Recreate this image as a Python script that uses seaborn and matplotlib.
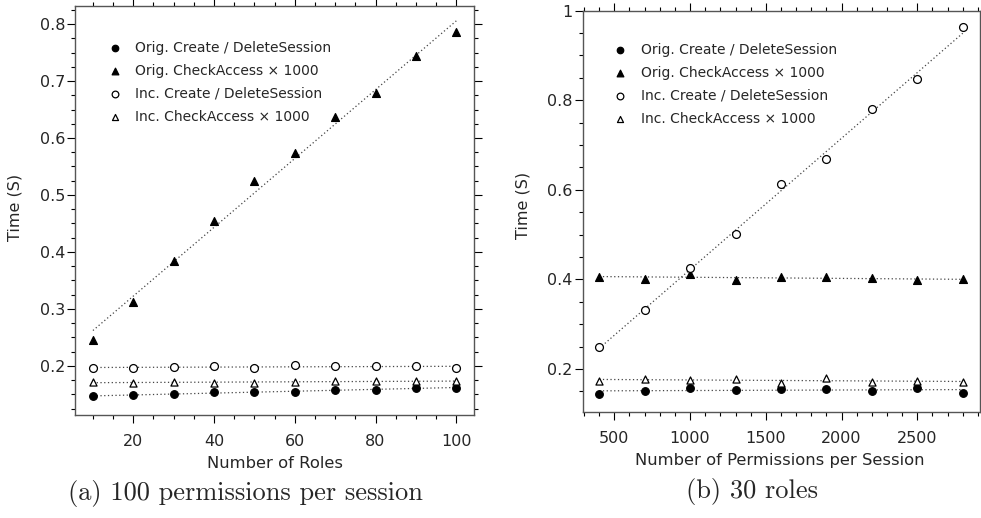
import matplotlib
matplotlib.use("Agg")
import numpy as np
import pandas as pd
import matplotlib.pyplot as plt
from matplotlib.ticker import MultipleLocator, FuncFormatter
import seaborn as sns

# --- values ---
roles = [10, 20, 30, 40, 50, 60, 70, 80, 90, 100]
roles_orig_create = [0.147, 0.149, 0.151, 0.154, 0.154, 0.155, 0.157, 0.158, 0.162, 0.162]
roles_orig_check = [0.245, 0.312, 0.384, 0.455, 0.524, 0.574, 0.636, 0.679, 0.744, 0.786]
roles_inc_create = [0.196, 0.196, 0.199, 0.200, 0.196, 0.201, 0.200, 0.200, 0.200, 0.196]
roles_inc_check = [0.172, 0.170, 0.172, 0.171, 0.170, 0.172, 0.174, 0.174, 0.173, 0.173]

perms = [400, 700, 1000, 1300, 1600, 1900, 2200, 2500, 2800]
perms_orig_create = [0.144, 0.152, 0.157, 0.154, 0.155, 0.155, 0.152, 0.158, 0.147]
perms_orig_check = [0.405, 0.402, 0.413, 0.399, 0.405, 0.405, 0.403, 0.398, 0.400]
perms_inc_create = [0.249, 0.332, 0.426, 0.502, 0.612, 0.670, 0.780, 0.847, 0.963]
perms_inc_check = [0.174, 0.178, 0.176, 0.178, 0.168, 0.180, 0.172, 0.174, 0.170]

series_labels = ["Orig. Create / DeleteSession", "Orig. CheckAccess \u00d7 1000",
                 "Inc. Create / DeleteSession", "Inc. CheckAccess \u00d7 1000"]

# --- style ---
sns.set_style("ticks")
plt.rcParams['font.family'] = ['DejaVu Sans']

markers = ['o', '^', 'o', '^']
faces = ['black', 'black', 'white', 'white']
sizes = [30, 32, 32, 26]


def draw_panel(ax, x, ys, legend_anchor):
    for y, lab, m, fc, s in zip(ys, series_labels, markers, faces, sizes):
        df = pd.DataFrame({'x': x, 'y': y})
        # dotted least-squares line behind the points
        sns.regplot(data=df, x='x', y='y', ax=ax, ci=None, scatter=False,
                    line_kws=dict(color='#444444', lw=0.9, ls=(0, (1, 2)), zorder=2))
        sns.scatterplot(data=df, x='x', y='y', ax=ax, marker=m, s=s, color='black',
                        facecolor=fc, edgecolor='black', linewidth=0.9,
                        label=lab, zorder=3)
    ax.set_xlabel('')
    ax.set_ylabel('')
    for sp in ax.spines.values():
        sp.set_visible(True)
        sp.set_color('#555555')
        sp.set_linewidth(1.0)
    ax.tick_params(which='both', direction='out', top=True, right=True,
                   labeltop=False, labelright=False, color='black', width=0.8)
    ax.tick_params(which='major', length=6, labelsize=11.5)
    ax.tick_params(which='minor', length=3)
    ax.tick_params(axis='x', pad=8)
    ax.tick_params(axis='y', pad=1)
    ax.yaxis.set_major_formatter(FuncFormatter(lambda v, p: f"{v:g}"))
    ax.legend(loc='upper left', frameon=False, fontsize=10, handlelength=1.0,
              handletextpad=1.0, labelspacing=0.65, borderpad=0, borderaxespad=0,
              markerscale=0.85, bbox_to_anchor=legend_anchor)


fig = plt.figure(figsize=(9.81, 5.18), dpi=100)
W, H = 981.0, 518.0

# left panel
ax1 = fig.add_axes([75 / W, (H - 415) / H, 399 / W, 409 / H])
draw_panel(ax1, roles, [roles_orig_create, roles_orig_check, roles_inc_create, roles_inc_check],
           (0.082, 0.915))
ax1.set_xlim(5.56, 104.38)
ax1.set_ylim(0.114, 0.8316)
ax1.xaxis.set_major_locator(MultipleLocator(20))
ax1.xaxis.set_minor_locator(MultipleLocator(5))
ax1.yaxis.set_major_locator(MultipleLocator(0.1))
ax1.yaxis.set_minor_locator(MultipleLocator(0.025))

# right panel
ax2 = fig.add_axes([582.5 / W, (H - 411.7) / H, 397.5 / W, 401 / H])
draw_panel(ax2, perms, [perms_orig_create, perms_orig_check, perms_inc_create, perms_inc_check],
           (0.078, 0.92))
ax2.set_xlim(290, 2914)
ax2.set_ylim(0.1047, 1.0)
ax2.xaxis.set_major_locator(MultipleLocator(500))
ax2.xaxis.set_minor_locator(MultipleLocator(100))
ax2.yaxis.set_major_locator(MultipleLocator(0.2))
ax2.yaxis.set_minor_locator(MultipleLocator(0.05))

# axis labels
fig.text(15 / W, 1 - 207 / H, 'Time (S)', rotation=90, ha='center', va='center', fontsize=11.5)
fig.text(523 / W, 1 - 205 / H, 'Time (S)', rotation=90, ha='center', va='center', fontsize=11.5)
fig.text(275 / W, 1 - 463 / H, 'Number of Roles', ha='center', va='center', fontsize=11.8)
fig.text(780 / W, 1 - 460 / H, 'Number of Permissions per Session', ha='center', va='center',
         fontsize=11.8)

# sub-captions
fig.text(245.5 / W, 1 - 500 / H, '(a) 100 permissions per session', ha='center',
         va='baseline', fontsize=19, family='cmr10')
fig.text(752.5 / W, 1 - 498 / H, '(b) 30 roles', ha='center', va='baseline',
         fontsize=19, family='cmr10')

fig.savefig('out.png', dpi=100)
